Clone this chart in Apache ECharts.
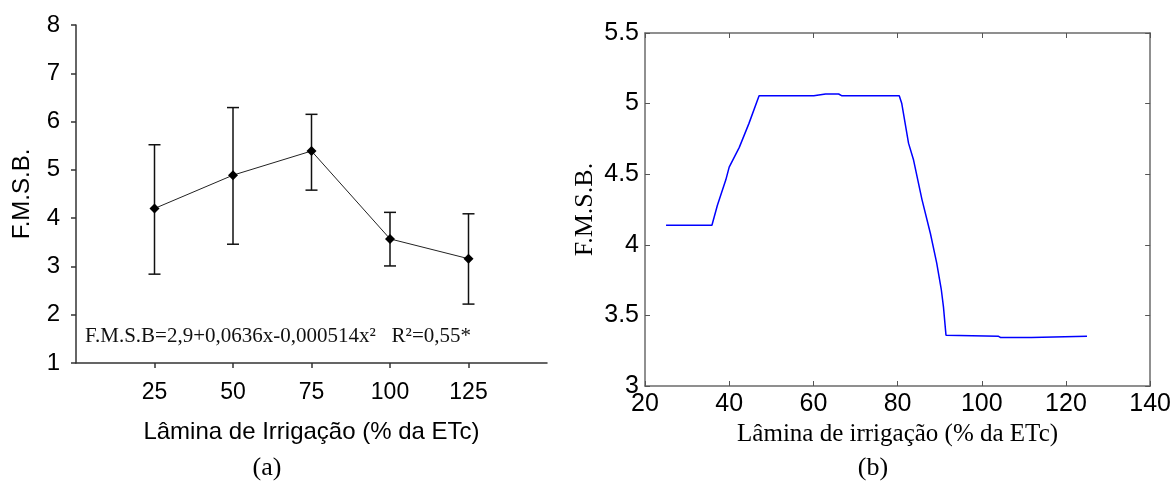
<!DOCTYPE html>
<html>
<head>
    <meta charset="utf-8">
    <title>F.M.S.B. x Lâmina de irrigação</title>
    <script src="https://cdn.jsdelivr.net/npm/echarts@6/dist/echarts.min.js"></script>
    <style>
        html, body { margin: 0; padding: 0; background: #fff; }
        #main { width: 1174px; height: 481px; }
    </style>
</head>
<body>
    <div id="main"></div>
    <script type="text/javascript">
        // (a) médias e barras de erro por lâmina
        var laminas = [25, 50, 75, 100, 125];
        var fmsbMedia = [4.20, 4.89, 5.39, 3.57, 3.16];
        var fmsbSup = [5.52, 6.29, 6.15, 4.12, 4.09];
        var fmsbInf = [2.84, 3.46, 4.58, 3.01, 2.22];
        var equacao = 'F.M.S.B=2,9+0,0636x-0,000514x²   R²=0,55*';

        // (b) curva do modelo
        var modeloX = [25, 35.9, 37.2, 39.2, 40.0, 42.4, 44.7, 47.1, 60.1, 62.9, 66.0, 66.8, 80.4, 81.0, 82.6, 83.8,
            85.8, 87.8, 89.3, 90.4, 90.9, 91.5, 91.7, 104.0, 104.5, 108.1, 108.3, 108.5, 111.8, 112.0, 125];
        var modeloY = [4.138, 4.138, 4.28, 4.46, 4.55, 4.69, 4.86, 5.055, 5.055, 5.068, 5.068, 5.055, 5.055, 5.0, 4.72, 4.60,
            4.32, 4.08, 3.87, 3.68, 3.56, 3.36, 3.352, 3.352, 3.343, 3.343, 3.333, 3.343, 3.343, 3.352, 3.352];

        var sans = '"Liberation Sans", Arial, sans-serif';
        var serif = '"Liberation Serif", "Times New Roman", serif';

        var mediaData = laminas.map(function (x, i) { return [x, fmsbMedia[i]]; });
        var erroData = laminas.map(function (x, i) { return [x, fmsbSup[i], fmsbInf[i]]; });
        var modeloData = modeloX.map(function (x, i) { return [x, modeloY[i]]; });

        var myChart = echarts.init(document.getElementById('main'));

        var eixoB = { lineStyle: { color: '#6b6b6b', width: 1.5 }, onZero: false };

        myChart.setOption({
            animation: false,
            grid: [
                { left: 76, top: 25, width: 471, height: 338 },
                { left: 645, top: 33, width: 507, height: 353 }
            ],
            xAxis: [
                {
                    type: 'value', gridIndex: 0, min: 0, max: 150, interval: 25,
                    name: 'Lâmina de Irrigação (% da ETc)', nameLocation: 'middle', nameGap: 57,
                    nameTextStyle: { fontFamily: sans, fontSize: 24, color: '#000' },
                    axisLine: { lineStyle: { color: '#333', width: 1.5 }, onZero: false },
                    axisTick: { show: true, length: 5, customValues: laminas, lineStyle: { color: '#333', width: 1.5 } },
                    axisLabel: { customValues: laminas, fontFamily: sans, fontSize: 23, color: '#000', margin: 18 },
                    splitLine: { show: false }
                },
                {
                    type: 'value', gridIndex: 1, min: 20, max: 140, interval: 20, position: 'bottom',
                    name: 'Lâmina de irrigação (% da ETc)', nameLocation: 'middle', nameGap: 33,
                    nameTextStyle: { fontFamily: serif, fontSize: 25, color: '#000' },
                    axisLine: eixoB,
                    axisTick: { show: true, inside: true, length: 5, lineStyle: { color: '#555', width: 1 } },
                    axisLabel: { fontFamily: sans, fontSize: 25, color: '#000', margin: 6 },
                    splitLine: { show: false }
                },
                {
                    type: 'value', gridIndex: 1, min: 20, max: 140, interval: 20, position: 'top',
                    axisLine: eixoB,
                    axisTick: { show: true, inside: true, length: 5, lineStyle: { color: '#555', width: 1 } },
                    axisLabel: { show: false },
                    splitLine: { show: false }
                }
            ],
            yAxis: [
                {
                    type: 'value', gridIndex: 0, min: 1, max: 8, interval: 1,
                    name: 'F.M.S.B.', nameLocation: 'middle', nameGap: 42,
                    nameTextStyle: { fontFamily: sans, fontSize: 24, color: '#000' },
                    axisLine: { show: true, lineStyle: { color: '#333', width: 1.5 }, onZero: false },
                    axisTick: { show: true, length: 5, lineStyle: { color: '#333', width: 1.5 } },
                    axisLabel: { fontFamily: sans, fontSize: 24, color: '#000', margin: 16 },
                    splitLine: { show: false }
                },
                {
                    type: 'value', gridIndex: 1, min: 3, max: 5.5, interval: 0.5, position: 'left',
                    name: 'F.M.S.B.', nameLocation: 'middle', nameGap: 47,
                    nameTextStyle: { fontFamily: serif, fontSize: 26, color: '#000' },
                    axisLine: { show: true, lineStyle: { color: '#6b6b6b', width: 1.5 }, onZero: false },
                    axisTick: { show: true, inside: true, length: 5, lineStyle: { color: '#555', width: 1 } },
                    axisLabel: { fontFamily: sans, fontSize: 25, color: '#000', margin: 6 },
                    splitLine: { show: false }
                },
                {
                    type: 'value', gridIndex: 1, min: 3, max: 5.5, interval: 0.5, position: 'right',
                    axisLine: { show: true, lineStyle: { color: '#6b6b6b', width: 1.5 }, onZero: false },
                    axisTick: { show: true, inside: true, length: 5, lineStyle: { color: '#555', width: 1 } },
                    axisLabel: { show: false },
                    splitLine: { show: false }
                }
            ],
            series: [
                {
                    name: 'erro', type: 'custom', xAxisIndex: 0, yAxisIndex: 0,
                    data: erroData,
                    encode: { x: 0, y: [1, 2] },
                    renderItem: function (params, api) {
                        var topo = api.coord([api.value(0), api.value(1)]);
                        var base = api.coord([api.value(0), api.value(2)]);
                        var w = 6;
                        var st = { stroke: '#111', lineWidth: 1.5 };
                        return {
                            type: 'group',
                            children: [
                                { type: 'line', shape: { x1: topo[0], y1: topo[1], x2: base[0], y2: base[1] }, style: st },
                                { type: 'line', shape: { x1: topo[0] - w, y1: topo[1], x2: topo[0] + w, y2: topo[1] }, style: st },
                                { type: 'line', shape: { x1: base[0] - w, y1: base[1], x2: base[0] + w, y2: base[1] }, style: st }
                            ]
                        };
                    }
                },
                {
                    name: 'F.M.S.B.', type: 'line', xAxisIndex: 0, yAxisIndex: 0,
                    data: mediaData,
                    symbol: 'diamond', symbolSize: 10,
                    itemStyle: { color: '#000' },
                    lineStyle: { color: '#222', width: 1 },
                    z: 3
                },
                {
                    name: 'modelo', type: 'line', xAxisIndex: 1, yAxisIndex: 1,
                    data: modeloData,
                    showSymbol: false,
                    lineStyle: { color: '#0000ff', width: 1.5 }
                }
            ],
            graphic: [
                {
                    type: 'text', left: 85, top: 326,
                    style: { text: equacao, font: '21px ' + serif, fill: '#111' }
                },
                {
                    type: 'text', x: 267, y: 468,
                    style: { text: '(a)', font: '26px ' + serif, fill: '#000', align: 'center', verticalAlign: 'middle' }
                },
                {
                    type: 'text', x: 873, y: 468,
                    style: { text: '(b)', font: '26px ' + serif, fill: '#000', align: 'center', verticalAlign: 'middle' }
                }
            ]
        });
    </script>
</body>
</html>
